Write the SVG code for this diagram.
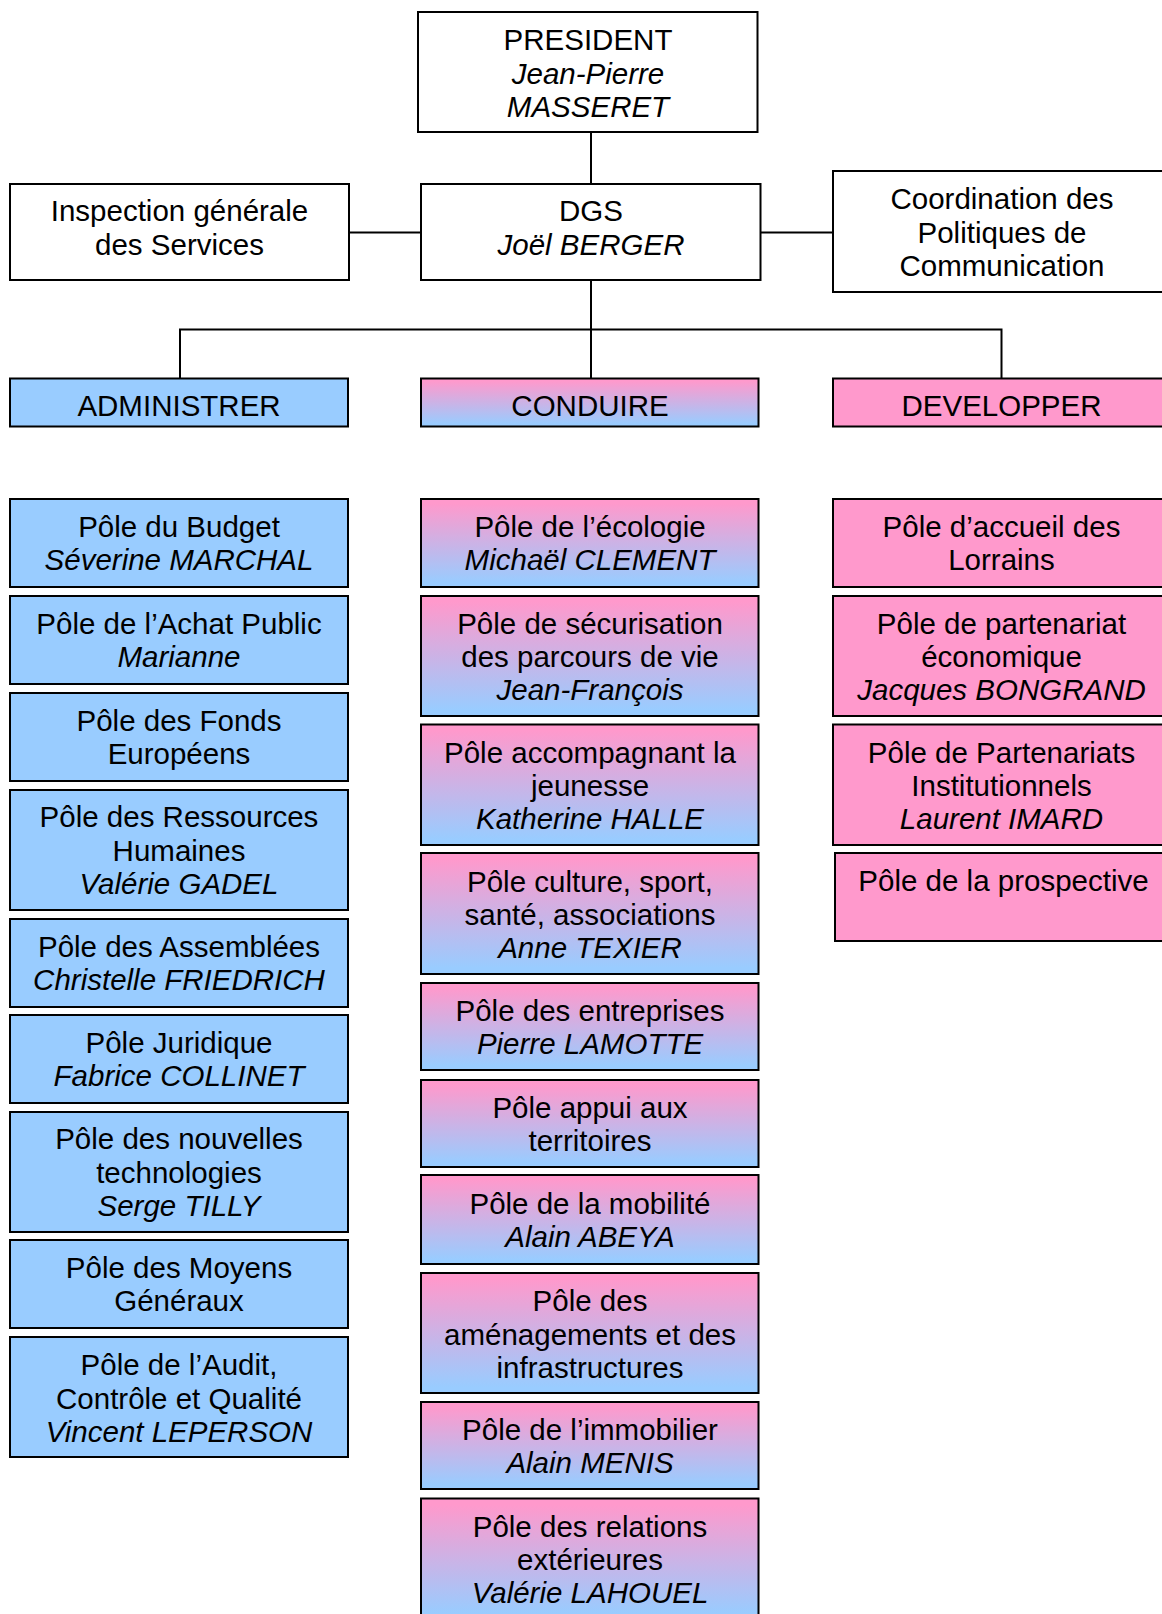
<svg xmlns="http://www.w3.org/2000/svg" width="1162" height="1614" viewBox="0 0 1162 1614">
<defs>
<linearGradient id="pb" x1="0" y1="0" x2="0" y2="1">
<stop offset="0.05" stop-color="#FF99CC"/>
<stop offset="0.95" stop-color="#99CCFF"/>
</linearGradient>
<style>
.box{stroke:#000;stroke-width:2}
.w{fill:#fff}
.b{fill:#99CCFF}
.p{fill:#FF99CC}
.g{fill:url(#pb)}
text{font-family:"Liberation Sans",Arial,sans-serif;font-size:29.5px;fill:#000;text-anchor:middle}
.i{font-style:italic}
.c{fill:none;stroke:#000;stroke-width:2}
</style>
</defs>
<rect width="1162" height="1614" fill="#fff"/>
<g id="connectors">
<path class="c" d="M591,132V184"/>
<path class="c" d="M349,232.5H421"/>
<path class="c" d="M760.5,232.5H833"/>
<path class="c" d="M591,280V378.5"/>
<path class="c" d="M180,378.5V329.5H1001.5V378.5"/>
</g>
<g id="president"><rect class="box w" x="418" y="12" width="339.5" height="120"/>
<text x="588" y="50">PRESIDENT</text><text class="i" x="588" y="84">Jean-Pierre</text><text class="i" x="588" y="117">MASSERET</text></g>
<g id="dgs"><rect class="box w" x="421" y="184" width="339.5" height="96"/>
<text x="591" y="221">DGS</text><text class="i" x="591" y="255">Joël BERGER</text></g>
<g id="inspection"><rect class="box w" x="10" y="184" width="339" height="96"/>
<text x="179.5" y="221">Inspection générale</text><text x="179.5" y="255">des Services</text></g>
<g id="coordination"><rect class="box w" x="833" y="171" width="337" height="121"/>
<text x="1002" y="209">Coordination des</text><text x="1002" y="243">Politiques de</text><text x="1002" y="276">Communication</text></g>
<g id="administrer"><rect class="box b" x="10" y="378.5" width="338" height="48"/><text x="179" y="416">ADMINISTRER</text></g>
<g id="conduire"><rect class="box g" x="421" y="378.5" width="337.5" height="48"/><text x="590" y="416">CONDUIRE</text></g>
<g id="developper"><rect class="box p" x="833" y="378.5" width="337" height="48"/><text x="1001.5" y="416">DEVELOPPER</text></g>

<g id="budget"><rect class="box b" x="10" y="499" width="338" height="88"/><text x="179" y="537">Pôle du Budget</text><text class="i" x="179" y="570">Séverine MARCHAL</text></g>
<g id="achat"><rect class="box b" x="10" y="596" width="338" height="88"/><text x="179" y="634">Pôle de l’Achat Public</text><text class="i" x="179" y="667">Marianne</text></g>
<g id="fonds"><rect class="box b" x="10" y="693" width="338" height="88"/><text x="179" y="731">Pôle des Fonds</text><text x="179" y="764">Européens</text></g>
<g id="rh"><rect class="box b" x="10" y="790" width="338" height="120"/><text x="179" y="827">Pôle des Ressources</text><text x="179" y="861">Humaines</text><text class="i" x="179" y="894">Valérie GADEL</text></g>
<g id="assemblees"><rect class="box b" x="10" y="919" width="338" height="88"/><text x="179" y="957">Pôle des Assemblées</text><text class="i" x="179" y="990">Christelle FRIEDRICH</text></g>
<g id="juridique"><rect class="box b" x="10" y="1015" width="338" height="88"/><text x="179" y="1053">Pôle Juridique</text><text class="i" x="179" y="1086">Fabrice COLLINET</text></g>
<g id="nouvtech"><rect class="box b" x="10" y="1112" width="338" height="120"/><text x="179" y="1149">Pôle des nouvelles</text><text x="179" y="1183">technologies</text><text class="i" x="179" y="1216">Serge TILLY</text></g>
<g id="moyens"><rect class="box b" x="10" y="1240" width="338" height="88"/><text x="179" y="1278">Pôle des Moyens</text><text x="179" y="1311">Généraux</text></g>
<g id="audit"><rect class="box b" x="10" y="1337" width="338" height="120"/><text x="179" y="1375">Pôle de l’Audit,</text><text x="179" y="1409">Contrôle et Qualité</text><text class="i" x="179" y="1442">Vincent LEPERSON</text></g>

<g id="ecologie"><rect class="box g" x="421" y="499" width="337.5" height="88"/><text x="590" y="537">Pôle de l’écologie</text><text class="i" x="590" y="570">Michaël CLEMENT</text></g>
<g id="securisation"><rect class="box g" x="421" y="596" width="337.5" height="120"/><text x="590" y="634">Pôle de sécurisation</text><text x="590" y="667">des parcours de vie</text><text class="i" x="590" y="700">Jean-François</text></g>
<g id="jeunesse"><rect class="box g" x="421" y="724.5" width="337.5" height="120.5"/><text x="590" y="763">Pôle accompagnant la</text><text x="590" y="796">jeunesse</text><text class="i" x="590" y="829">Katherine HALLE</text></g>
<g id="culture"><rect class="box g" x="421" y="853" width="337.5" height="121"/><text x="590" y="892">Pôle culture, sport,</text><text x="590" y="925">santé, associations</text><text class="i" x="590" y="958">Anne TEXIER</text></g>
<g id="entreprises"><rect class="box g" x="421" y="983" width="337.5" height="87"/><text x="590" y="1021">Pôle des entreprises</text><text class="i" x="590" y="1054">Pierre LAMOTTE</text></g>
<g id="appui"><rect class="box g" x="421" y="1080" width="337.5" height="87"/><text x="590" y="1118">Pôle appui aux</text><text x="590" y="1151">territoires</text></g>
<g id="mobilite"><rect class="box g" x="421" y="1175" width="337.5" height="89"/><text x="590" y="1214">Pôle de la mobilité</text><text class="i" x="590" y="1247">Alain ABEYA</text></g>
<g id="amenagements"><rect class="box g" x="421" y="1273" width="337.5" height="120"/><text x="590" y="1311">Pôle des</text><text x="590" y="1345">aménagements et des</text><text x="590" y="1378">infrastructures</text></g>
<g id="immobilier"><rect class="box g" x="421" y="1402" width="337.5" height="87"/><text x="590" y="1440">Pôle de l’immobilier</text><text class="i" x="590" y="1473">Alain MENIS</text></g>
<g id="relations"><rect class="box g" x="421" y="1498.5" width="337.5" height="121"/><text x="590" y="1537">Pôle des relations</text><text x="590" y="1570">extérieures</text><text class="i" x="590" y="1603">Valérie LAHOUEL</text></g>

<g id="accueil"><rect class="box p" x="833" y="499" width="337" height="88"/><text x="1001.5" y="537">Pôle d’accueil des</text><text x="1001.5" y="570">Lorrains</text></g>
<g id="parteco"><rect class="box p" x="833" y="596" width="337" height="120"/><text x="1001.5" y="634">Pôle de partenariat</text><text x="1001.5" y="667">économique</text><text class="i" x="1001.5" y="700">Jacques BONGRAND</text></g>
<g id="partinst"><rect class="box p" x="833" y="724.5" width="337" height="120.5"/><text x="1001.5" y="763">Pôle de Partenariats</text><text x="1001.5" y="796">Institutionnels</text><text class="i" x="1001.5" y="829">Laurent IMARD</text></g>
<g id="prospective"><rect class="box p" x="835" y="853" width="337" height="88"/><text x="1003.5" y="891">Pôle de la prospective</text></g>
</svg>
